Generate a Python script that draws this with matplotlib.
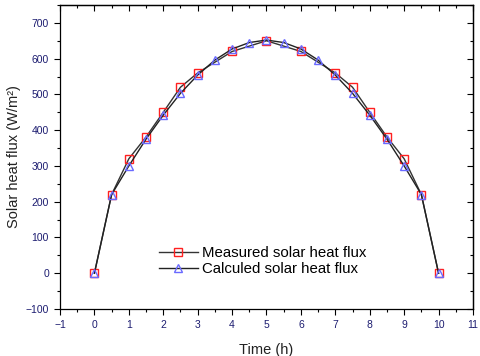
import matplotlib
matplotlib.use("Agg")
import matplotlib.pyplot as plt
from matplotlib.ticker import MultipleLocator

plt.rcParams['font.family'] = ['Liberation Sans', 'DejaVu Sans']

# Data
t_measured = [0, 0.5, 1, 1.5, 2, 2.5, 3, 4, 5, 6, 7, 7.5, 8, 8.5, 9, 9.5, 10]
q_measured = [0, 220, 320, 381, 450, 520, 560, 620, 650, 620, 560, 520, 450, 381, 320, 220, 0]
t_calc = [0, 0.5, 1, 1.5, 2, 2.5, 3, 3.5, 4, 4.5, 5, 5.5, 6, 6.5, 7, 7.5, 8, 8.5, 9, 9.5, 10]
q_calc = [0, 220, 300, 375, 442, 503, 554, 596, 627, 645, 652, 645, 627, 596, 554, 503, 442, 375, 300, 220, 0]
x_ticks = list(range(-1, 12))
y_ticks = list(range(-100, 800, 100))

fig = plt.figure(figsize=(4.8, 3.56), dpi=100)
ax = fig.add_axes([0.125, 0.132, 0.8604, 0.854])

ax.plot(t_measured, q_measured, color='#333333', lw=1.0, marker='s', ms=5.4,
        mfc='none', mec='#ff2020', mew=1.0, label='Measured solar heat flux', zorder=3)
ax.plot(t_calc, q_calc, color='#222222', lw=1.0, marker='^', ms=6.2,
        mfc='none', mec='#6a6aff', mew=1.0, label='Calculed solar heat flux', zorder=4)

ax.set_xlim(-1, 11)
ax.set_ylim(-100, 750)
ax.set_xticks(x_ticks)
ax.set_yticks(y_ticks)
ax.xaxis.set_minor_locator(MultipleLocator(0.5))
ax.yaxis.set_minor_locator(MultipleLocator(50))

lab_col = '#1c1c70'
ax.tick_params(axis='both', which='major', length=4, width=0.8, labelsize=7.5,
               labelcolor=lab_col, direction='out', pad=4)
ax.tick_params(axis='both', which='minor', length=2.5, width=0.8, direction='out')

# mirrored inward ticks on top and right
axt = ax.secondary_xaxis('top')
axt.set_xticks(x_ticks)
axt.xaxis.set_minor_locator(MultipleLocator(0.5))
axt.tick_params(which='major', direction='in', length=4, width=0.8, labeltop=False)
axt.tick_params(which='minor', direction='in', length=2.5, width=0.8)
axr = ax.secondary_yaxis('right')
axr.set_yticks(y_ticks)
axr.yaxis.set_minor_locator(MultipleLocator(50))
axr.tick_params(which='major', direction='in', length=4, width=0.8, labelright=False)
axr.tick_params(which='minor', direction='in', length=2.5, width=0.8)

for sp in ax.spines.values():
    sp.set_linewidth(0.9)
for a in (axt, axr):
    for sp in a.spines.values():
        sp.set_linewidth(0.9)

ax.set_xlabel('Time (h)', fontsize=10.5, color='#222222', labelpad=9)
ax.set_ylabel('Solar heat flux (W/m\u00b2)', fontsize=10.5, color='#222222', labelpad=3)

ax.legend(loc='center', bbox_to_anchor=(0.49, 0.158), frameon=False, fontsize=10.8,
          handlelength=2.6, handletextpad=0.25, labelspacing=0.15, borderpad=0.2)

fig.savefig('out.png', dpi=100)
